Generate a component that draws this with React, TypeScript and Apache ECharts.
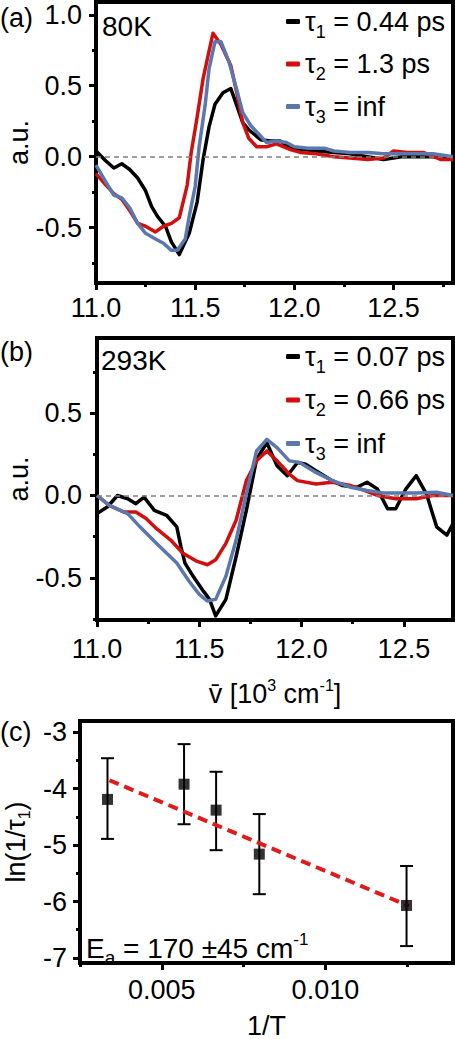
import React, { useEffect, useRef } from 'react';
import * as echarts from 'echarts';

const FONT = '"Liberation Sans", Arial, Helvetica, sans-serif';
const FS = 27;
const BLACK = '#000000';
const RED = '#d20f0f';
const BLUE = '#5a78ad';

// ---------- Panel (a) 80K ----------
const a1Name = 'τ1 = 0.44 ps';
const a2Name = 'τ2 = 1.3 ps';
const a3Name = 'τ3 = inf';
const a1X = [11.0, 11.05, 11.09, 11.13, 11.17, 11.21, 11.25, 11.28, 11.31, 11.35, 11.38, 11.42, 11.47, 11.51, 11.54, 11.57, 11.60, 11.64, 11.68, 11.71, 11.74, 11.77, 11.83, 11.88, 11.93, 11.98, 12.05, 12.11, 12.2, 12.28, 12.37, 12.45, 12.54, 12.62, 12.7, 12.79];
const a1Y = [0.04, -0.03, -0.08, -0.05, -0.09, -0.15, -0.24, -0.35, -0.42, -0.49, -0.6, -0.69, -0.54, -0.32, -0.02, 0.21, 0.37, 0.45, 0.48, 0.36, 0.24, 0.19, 0.12, 0.11, 0.11, 0.06, 0.05, 0.04, 0.03, 0.02, 0.0, -0.02, 0.0, 0.0, 0.0, -0.01];
const a2X = [11.0, 11.05, 11.09, 11.13, 11.17, 11.21, 11.25, 11.30, 11.34, 11.38, 11.42, 11.46, 11.48, 11.51, 11.54, 11.56, 11.59, 11.63, 11.68, 11.71, 11.74, 11.77, 11.81, 11.86, 11.91, 11.98, 12.03, 12.11, 12.2, 12.28, 12.37, 12.45, 12.5, 12.57, 12.65, 12.74, 12.8];
const a2Y = [-0.12, -0.2, -0.26, -0.3, -0.38, -0.47, -0.49, -0.53, -0.49, -0.47, -0.43, -0.2, 0.03, 0.28, 0.55, 0.68, 0.87, 0.79, 0.64, 0.45, 0.24, 0.13, 0.07, 0.07, 0.09, 0.05, 0.03, 0.02, 0.0, -0.01, -0.02, -0.01, 0.04, 0.03, 0.03, -0.02, -0.02];
const a3X = [11.0, 11.05, 11.09, 11.13, 11.17, 11.21, 11.25, 11.30, 11.34, 11.38, 11.41, 11.45, 11.47, 11.50, 11.52, 11.55, 11.57, 11.60, 11.63, 11.67, 11.71, 11.74, 11.78, 11.82, 11.86, 11.91, 11.96, 12.0, 12.07, 12.15, 12.2, 12.28, 12.37, 12.45, 12.54, 12.62, 12.7, 12.8];
const a3Y = [-0.06, -0.18, -0.27, -0.29, -0.36, -0.47, -0.54, -0.58, -0.61, -0.66, -0.66, -0.58, -0.42, -0.21, 0.07, 0.36, 0.62, 0.81, 0.81, 0.67, 0.47, 0.31, 0.22, 0.16, 0.10, 0.11, 0.10, 0.07, 0.06, 0.06, 0.04, 0.03, 0.03, 0.02, 0.02, 0.02, 0.02, 0.0];

// ---------- Panel (b) 293K ----------
const b1Name = 'τ1 = 0.07 ps';
const b2Name = 'τ2 = 0.66 ps';
const b3Name = 'τ3 = inf';
const b1X = [11.0, 11.05, 11.10, 11.15, 11.19, 11.23, 11.28, 11.34, 11.39, 11.41, 11.43, 11.47, 11.52, 11.55, 11.58, 11.63, 11.68, 11.73, 11.78, 11.83, 11.88, 11.93, 11.98, 12.02, 12.07, 12.11, 12.15, 12.2, 12.27, 12.32, 12.37, 12.42, 12.46, 12.51, 12.56, 12.61, 12.66, 12.71, 12.74];
const b1Y = [-0.11, -0.07, 0.0, -0.02, -0.05, -0.01, -0.09, -0.12, -0.19, -0.31, -0.41, -0.49, -0.58, -0.63, -0.73, -0.63, -0.37, -0.09, 0.22, 0.32, 0.18, 0.12, 0.20, 0.19, 0.15, 0.12, 0.09, 0.06, 0.05, 0.08, 0.04, -0.08, -0.08, 0.04, 0.12, 0.01, -0.19, -0.24, -0.17];
const b2X = [11.0, 11.06, 11.13, 11.19, 11.24, 11.29, 11.36, 11.42, 11.49, 11.54, 11.58, 11.63, 11.68, 11.73, 11.78, 11.83, 11.88, 11.94, 11.98, 12.07, 12.15, 12.24, 12.31, 12.37, 12.46, 12.56, 12.64, 12.74];
const b2Y = [0.0, -0.06, -0.10, -0.10, -0.14, -0.20, -0.27, -0.35, -0.40, -0.42, -0.39, -0.29, -0.15, 0.09, 0.21, 0.27, 0.21, 0.13, 0.09, 0.07, 0.08, 0.06, 0.03, 0.0, -0.02, -0.02, 0.0, 0.0];
const b3X = [11.0, 11.06, 11.15, 11.21, 11.29, 11.39, 11.45, 11.50, 11.54, 11.58, 11.63, 11.68, 11.73, 11.78, 11.83, 11.88, 11.94, 11.99, 12.07, 12.15, 12.24, 12.32, 12.40, 12.48, 12.56, 12.66, 12.74];
const b3Y = [0.0, -0.06, -0.11, -0.19, -0.29, -0.41, -0.52, -0.60, -0.64, -0.63, -0.49, -0.27, 0.01, 0.27, 0.34, 0.29, 0.21, 0.20, 0.14, 0.09, 0.05, 0.03, 0.015, 0.015, 0.015, 0.02, 0.0];

// ---------- Panel (c) Arrhenius ----------
const cX = [0.00334, 0.00568, 0.00666, 0.00798, 0.01248];
const cY = [-4.19, -3.92, -4.38, -5.16, -6.07];
const cErrHigh = [-3.46, -3.21, -3.70, -4.45, -5.37];
const cErrLow = [-4.89, -4.63, -5.09, -5.87, -6.79];
const fitX = [0.0034, 0.01255];
const fitY = [-3.85, -6.08];

// ---------- ticks ----------
const xTicksA = [11.0, 11.5, 12.0, 12.5];
const xMinorA = [11.25, 11.75, 12.25, 12.75];
const yTicksA = [-0.5, 0.0, 0.5, 1.0];
const yMinorA = [-0.75, -0.25, 0.25, 0.75];
const xTicksB = [11.0, 11.5, 12.0, 12.5];
const xMinorB = [11.25, 11.75, 12.25];
const yTicksB = [-0.5, 0.0, 0.5];
const yMinorB = [-0.75, -0.25, 0.25, 0.75];
const xTicksC = [0.005, 0.01];
const xMinorC = [0.0025, 0.0075, 0.0125];
const yTicksC = [-7, -6, -5, -4, -3];
const yMinorC = [-6.5, -5.5, -4.5, -3.5];

const zip = (xs: number[], ys: number[]) => xs.map((x, i) => [x, ys[i]]);

const majorAxis = (gridIndex: number, pos: string, min: number, max: number, ticks: number[], digits: number, margin: number, extra: any = {}) => ({
  type: 'value', gridIndex, position: pos, min, max,
  splitLine: { show: false },
  nameMoveOverlap: false,
  axisLine: { show: true, onZero: false, lineStyle: { color: BLACK, width: 4 } },
  axisTick: { show: true, inside: false, length: 7, customValues: ticks, lineStyle: { color: BLACK, width: 3 } },
  axisLabel: { show: true, customValues: ticks, formatter: (v: number) => v.toFixed(digits), fontSize: FS, color: BLACK, fontFamily: FONT, margin },
  nameTextStyle: { fontSize: FS, color: BLACK, fontFamily: FONT },
  ...extra,
});
const minorAxis = (gridIndex: number, pos: string, min: number, max: number, ticks: number[]) => ({
  type: 'value', gridIndex, position: pos, min, max,
  splitLine: { show: false },
  axisLine: { show: false, onZero: false },
  axisTick: { show: true, inside: false, length: 4, customValues: ticks, lineStyle: { color: BLACK, width: 3 } },
  axisLabel: { show: false },
});

const curve = (name: string, xs: number[], ys: number[], color: string, gi: number) => ({
  type: 'line', name, xAxisIndex: gi * 2, yAxisIndex: gi * 2,
  data: zip(xs, ys), symbol: 'none', showSymbol: false, z: 3,
  lineStyle: { color, width: 3.5, join: 'round' }, itemStyle: { color }, color,
});
const zeroLine = (gi: number) => ({
  type: 'line', name: 'zero' + gi, xAxisIndex: gi * 2, yAxisIndex: gi * 2, data: [], z: 1,
  markLine: {
    silent: true, symbol: ['none', 'none'], label: { show: false },
    lineStyle: { color: '#808080', type: [5, 4], width: 1.5 },
    data: [{ yAxis: 0 }],
  },
});

const legendFmt = (name: string) => name.replace(/τ(\d)/, 'τ{sub|$1}');
const legend = (data: string[], top: number, gap: number) => ({
  data, orient: 'vertical', left: 281, top, itemGap: gap, itemWidth: 14, itemHeight: 5,
  icon: 'roundRect', formatter: legendFmt, selectedMode: false,
  textStyle: {
    fontSize: FS, color: BLACK, fontFamily: FONT,
    rich: { sub: { fontSize: 18, color: BLACK, fontFamily: FONT, padding: [20, 0, 0, 0] } },
  },
});

const txt = (text: string, x: number, y: number, size = FS, rich: any = undefined) => ({
  type: 'text', x, y, silent: true,
  style: { text, fontSize: size, fontFamily: FONT, fill: BLACK, verticalAlign: 'middle', align: 'left', rich },
});

export default function App() {
  const ref = useRef<HTMLDivElement>(null);
  useEffect(() => {
    if (!ref.current) return;
    const chart = echarts.init(ref.current, null, { renderer: 'svg' });
    const option: any = {
      animation: false,
      backgroundColor: '#ffffff',
      textStyle: { fontFamily: FONT },
      grid: [
        { left: 96, top: 2, width: 357, height: 281, show: true, borderColor: BLACK, borderWidth: 4, containLabel: false, outerBoundsMode: 'none' },
        { left: 97, top: 338, width: 356, height: 282, show: true, borderColor: BLACK, borderWidth: 4, containLabel: false, outerBoundsMode: 'none' },
        { left: 80, top: 721, width: 373, height: 242, show: true, borderColor: BLACK, borderWidth: 4, containLabel: false, outerBoundsMode: 'none' },
      ],
      xAxis: [
        majorAxis(0, 'bottom', 11.0, 12.8, xTicksA, 1, 11),
        minorAxis(0, 'bottom', 11.0, 12.8, xMinorA),
        majorAxis(1, 'bottom', 11.0, 12.74, xTicksB, 1, 15, {
          name: 'v\u0304 [10{sup|3} cm{sup|-1}]', nameLocation: 'middle', nameGap: 57,
          nameTextStyle: { fontSize: FS, color: BLACK, fontFamily: FONT, rich: { sup: { fontSize: 16, color: BLACK, fontFamily: FONT, padding: [0, 0, 18, 0] } } },
        }),
        minorAxis(1, 'bottom', 11.0, 12.74, xMinorB),
        majorAxis(2, 'bottom', 0.0025, 0.0139, xTicksC, 3, 13, { name: '1/T', nameLocation: 'middle', nameGap: 49 }),
        minorAxis(2, 'bottom', 0.0025, 0.0139, xMinorC),
      ],
      yAxis: [
        majorAxis(0, 'left', -0.89, 1.09, yTicksA, 1, 14, { name: 'a.u.', nameLocation: 'middle', nameRotate: 90, nameGap: 64 }),
        minorAxis(0, 'left', -0.89, 1.09, yMinorA),
        majorAxis(1, 'left', -0.755, 0.955, yTicksB, 1, 15, { name: 'a.u.', nameLocation: 'middle', nameRotate: 90, nameGap: 65 }),
        minorAxis(1, 'left', -0.755, 0.955, yMinorB),
        majorAxis(2, 'left', -7.09, -2.8, yTicksC, 0, 13, {
          name: 'ln(1/τ{sub|1})', nameLocation: 'middle', nameRotate: 90, nameGap: 48,
          nameTextStyle: { fontSize: FS, color: BLACK, fontFamily: FONT, rich: { sub: { fontSize: 16, color: BLACK, fontFamily: FONT, padding: [16, 0, 0, 0] } } },
        }),
        minorAxis(2, 'left', -7.09, -2.8, yMinorC),
      ],
      legend: [
        legend([a1Name, a2Name, a3Name], 3, 10),
        legend([b1Name, b2Name, b3Name], 338, 11),
      ],
      series: [
        zeroLine(0),
        curve(a1Name, a1X, a1Y, BLACK, 0),
        curve(a2Name, a2X, a2Y, RED, 0),
        curve(a3Name, a3X, a3Y, BLUE, 0),
        zeroLine(1),
        curve(b1Name, b1X, b1Y, BLACK, 1),
        curve(b2Name, b2X, b2Y, RED, 1),
        curve(b3Name, b3X, b3Y, BLUE, 1),
        {
          type: 'custom', name: 'errors', xAxisIndex: 4, yAxisIndex: 4, z: 3,
          data: cX.map((x, i) => [x, cErrLow[i], cErrHigh[i]]),
          encode: { x: 0, y: [1, 2] },
          renderItem: (params: any, api: any) => {
            const x = api.value(0);
            const lo = api.coord([x, api.value(1)]);
            const hi = api.coord([x, api.value(2)]);
            const cap = 6.5;
            const st = { stroke: BLACK, lineWidth: 2 };
            return {
              type: 'group',
              children: [
                { type: 'line', shape: { x1: lo[0], y1: lo[1], x2: hi[0], y2: hi[1] }, style: st },
                { type: 'line', shape: { x1: lo[0] - cap, y1: lo[1], x2: lo[0] + cap, y2: lo[1] }, style: st },
                { type: 'line', shape: { x1: hi[0] - cap, y1: hi[1], x2: hi[0] + cap, y2: hi[1] }, style: st },
              ],
            };
          },
        },
        {
          type: 'line', name: 'fit', xAxisIndex: 4, yAxisIndex: 4, z: 4,
          data: zip(fitX, fitY), symbol: 'none',
          lineStyle: { color: '#e01b1b', width: 4, type: [10, 6] },
        },
        {
          type: 'scatter', name: 'ln(1/τ1)', xAxisIndex: 4, yAxisIndex: 4, z: 5,
          data: zip(cX, cY), symbol: 'rect', symbolSize: 11,
          itemStyle: { color: BLACK },
        },
      ],
      graphic: [
        txt('(a)', 0, 18, 27),
        txt('(b)', 0, 352, 27),
        txt('(c)', 0, 732, 27),
        txt('80K', 102, 26, 28),
        txt('293K', 101, 360, 28),
        txt('E{sub|a} = 170 ±45 cm{sup|-1}', 86, 948, 28, {
          sub: { fontSize: 19, fill: BLACK, fontFamily: FONT, padding: [18, 0, 0, 0] },
          sup: { fontSize: 17, fill: BLACK, fontFamily: FONT, padding: [0, 0, 18, 0] },
        }),
      ],
    };
    chart.setOption(option);
    return () => chart.dispose();
  }, []);
  return <div ref={ref} style={{ position: 'absolute', left: 0, top: 0, width: 455, height: 1039 }} />;
}
